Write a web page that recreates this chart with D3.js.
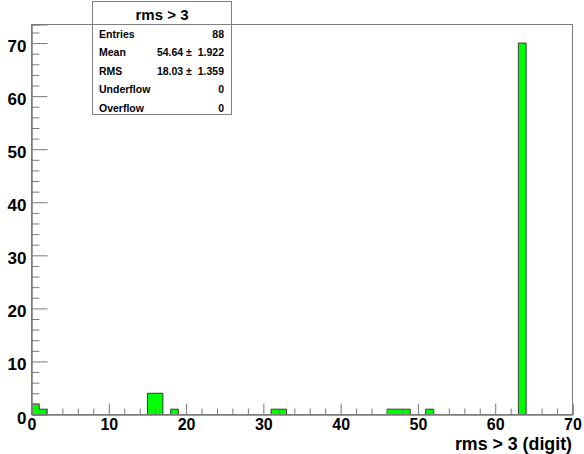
<!DOCTYPE html>
<html>
<head>
<meta charset="utf-8">
<script src="https://cdn.jsdelivr.net/npm/d3@7"></script>
<style>
  html, body { margin: 0; padding: 0; background: #fff; }
  svg { display: block; font-family: "Liberation Sans", Arial, Helvetica, sans-serif; }
</style>
</head>
<body>
<svg id="chart" width="584" height="454"></svg>
<script>
// Histogram "rms > 3": 70 unit-width bins from 0 to 70; only filled bins listed
const binLow   = [0, 1, 15, 16, 18, 31, 32, 46, 47, 48, 51, 63];
const binCount = [2, 1,  4,  4,  1,  1,  1,  1,  1,  1,  1, 70];
const nBins = 70;
const xMin = 0, xMax = 70;

// Axis ticks
const xMajorTicks = [0, 10, 20, 30, 40, 50, 60, 70];
const yMajorTicks = [0, 10, 20, 30, 40, 50, 60, 70];

// Statistics box
const histTitle = "rms > 3";
const statNames  = ["Entries", "Mean", "RMS", "Underflow", "Overflow"];
const statValues = ["88", "54.64 \u00b1  1.922", "18.03 \u00b1  1.359", "0", "0"];
const xTitle = "rms > 3 (digit)";

const svg = d3.select("#chart");
const frameL = 31.5, frameR = 572.5, frameT = 24.5, frameB = 414.5;
const yTop = 73.5;

const x = d3.scaleLinear().domain([xMin, xMax]).range([frameL, frameR]);
const y = d3.scaleLinear().domain([0, yTop]).range([frameB, frameT]);

// per-bin contents
const contents = new Array(nBins).fill(0);
binLow.forEach((b, i) => { contents[b] = binCount[i]; });

// step contour of the histogram
const pts = [[x(0), y(0)]];
contents.forEach((c, i) => {
  pts.push([x(i), y(c)]);
  pts.push([x(i + 1), y(c)]);
});
pts.push([x(nBins), y(0)]);

svg.append("path")
  .attr("d", d3.line()(pts) + "Z")
  .attr("fill", "#00ff00")
  .attr("stroke", "#3a3a3a")
  .attr("stroke-width", 1);

// frame
const axisColor = "#7a7a7a";
svg.append("rect")
  .attr("x", frameL).attr("y", frameT)
  .attr("width", frameR - frameL).attr("height", frameB - frameT)
  .attr("fill", "none").attr("stroke", axisColor).attr("stroke-width", 1);

// minor ticks every 2 units
const minorVals = d3.range(0, 74, 2).filter(v => v % 10 !== 0);

const xMinor = d3.axisBottom(x).tickValues(minorVals.filter(v => v < xMax))
  .tickSize(-6).tickFormat("");
const xMajor = d3.axisBottom(x).tickValues(xMajorTicks)
  .tickSize(-11).tickPadding(4).tickFormat(d3.format("d"));
const yMinor = d3.axisLeft(y).tickValues(minorVals.filter(v => v < yTop))
  .tickSize(-8).tickFormat("");
const yMajor = d3.axisLeft(y).tickValues(yMajorTicks)
  .tickSize(-16).tickPadding(5).tickFormat(d3.format("d"));

function styleAxis(g) {
  g.select(".domain").attr("stroke", axisColor);
  g.selectAll(".tick line").attr("stroke", axisColor);
  g.selectAll(".tick text")
    .attr("fill", "#000")
    .attr("font-size", 16)
    .attr("font-weight", "bold")
    .attr("font-family", "Liberation Sans, Arial, sans-serif");
}

svg.append("g").attr("transform", `translate(0,${frameB})`).call(xMinor).call(styleAxis);
svg.append("g").attr("transform", `translate(0,${frameB})`).call(xMajor).call(styleAxis);
svg.append("g").attr("transform", `translate(${frameL},0)`).call(yMinor).call(styleAxis);
const gy = svg.append("g").attr("transform", `translate(${frameL},0)`).call(yMajor).call(styleAxis);
gy.selectAll(".tick text").attr("dy", "0.5em").attr("font-size", 17);

// x axis title
svg.append("text")
  .attr("x", 572).attr("y", 450)
  .attr("text-anchor", "end")
  .attr("font-size", 17.8).attr("font-weight", "bold")
  .text(xTitle);

// statistics box
const bx = 92.5, by = 1.5, bw = 139, bh = 113;
const box = svg.append("g");
box.append("rect")
  .attr("x", bx).attr("y", by).attr("width", bw).attr("height", bh)
  .attr("fill", "#fff").attr("stroke", "#808080").attr("stroke-width", 1);
box.append("line")
  .attr("x1", bx).attr("x2", bx + bw).attr("y1", 24.5).attr("y2", 24.5)
  .attr("stroke", "#808080").attr("stroke-width", 1);
box.append("text")
  .attr("x", bx + bw / 2).attr("y", 19.5)
  .attr("text-anchor", "middle")
  .attr("font-size", 15).attr("font-weight", "bold")
  .text(histTitle);

const rowY = d3.scaleLinear().domain([0, statNames.length - 1]).range([37.5, 112]);
statNames.forEach((name, i) => {
  box.append("text")
    .attr("x", 99).attr("y", rowY(i))
    .attr("font-size", 10.5).attr("font-weight", "bold")
    .text(name);
  box.append("text")
    .attr("x", 224).attr("y", rowY(i))
    .attr("text-anchor", "end")
    .attr("font-size", 10.5).attr("font-weight", "bold")
    .style("white-space", "pre")
    .text(statValues[i]);
});
</script>
</body>
</html>
